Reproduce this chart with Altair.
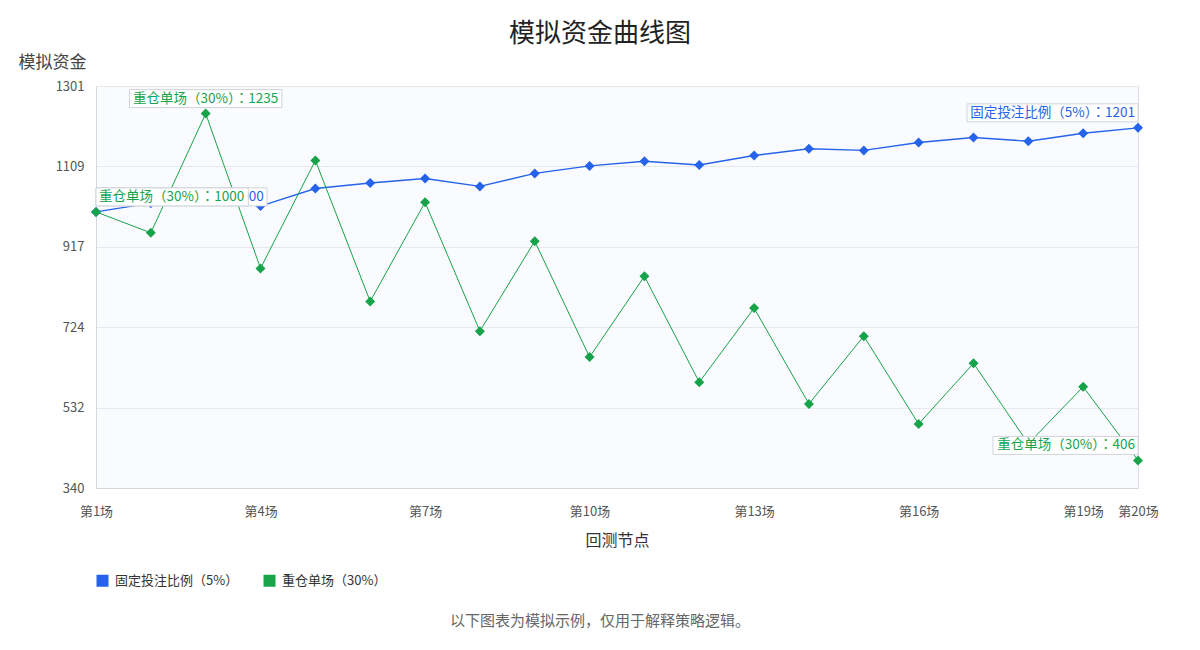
import altair as alt
import pandas as pd

FONT = "Noto Sans CJK SC"
LABEL_FONT = "Noto Sans CJK JP"

# ---- data ----
rounds = list(range(1, 21))
fixed_bet = [1000, 1021, 1040, 1014, 1056, 1069, 1080, 1061, 1092, 1110,
             1121, 1112, 1135, 1151, 1147, 1166, 1178, 1169, 1188, 1201]
heavy_bet = [1000, 950, 1235, 865, 1123, 786, 1023, 715, 930, 653,
             846, 593, 770, 541, 703, 493, 638, 446, 582, 406]
series_names = ["固定投注比例（5%）", "重仓单场（30%）"]
series_colors = ["#2563eb", "#16a34a"]
y_ticks = [340, 532, 724, 917, 1109, 1301]
x_ticks = [1, 4, 7, 10, 13, 16, 19, 20]
title_text = "模拟资金曲线图"
y_title = "模拟资金"
x_title = "回测节点"
footer_text = "以下图表为模拟示例，仅用于解释策略逻辑。"

rows = []
for name, vals in zip(series_names, [fixed_bet, heavy_bet]):
    for r, v in zip(rounds, vals):
        rows.append({"round": r, "value": v, "series": name})
df = pd.DataFrame(rows)

x_scale = alt.Scale(domain=[1, 20], nice=False)
y_scale = alt.Scale(domain=[340, 1301], nice=False, zero=False)

x_axis = alt.Axis(values=x_ticks, labelExpr="'第' + datum.value + '场'",
                  labelFontSize=13, labelColor="#555", ticks=False, grid=False,
                  domainColor="#d5d8df", labelPadding=17, labelOverlap=False,
                  labelFlush=False, title=x_title, titleFontSize=16,
                  titleColor="#333", titleFontWeight="normal", titlePadding=14)
y_axis = alt.Axis(values=y_ticks, format="d", labelFontSize=13, labelColor="#555",
                  ticks=False, grid=True, gridColor="#e6e8ec",
                  domainColor="#d5d8df", labelPadding=12, title=y_title,
                  titleAngle=0, titleAlign="left", titleBaseline="middle",
                  titleX=-78, titleY=-24, titleFontSize=17, titleColor="#444",
                  titleFontWeight="normal")

base = alt.Chart(df)
layers = []

# lines
for name, col, w in zip(series_names, series_colors, [1.4, 1.0]):
    layers.append(
        base.transform_filter(alt.datum.series == name)
        .mark_line(color=col, strokeWidth=w)
        .encode(x=alt.X("round:Q", scale=x_scale, axis=x_axis),
                y=alt.Y("value:Q", scale=y_scale, axis=y_axis))
    )

# points (with legend)
layers.append(
    base.mark_point(shape="diamond", filled=True, size=100, opacity=1)
    .encode(
        x=alt.X("round:Q", scale=x_scale, axis=x_axis),
        y=alt.Y("value:Q", scale=y_scale, axis=y_axis),
        color=alt.Color("series:N",
                        scale=alt.Scale(domain=series_names, range=series_colors),
                        legend=alt.Legend(title=None, orient="none", legendX=0,
                                          legendY=488, direction="horizontal",
                                          symbolType="square", symbolSize=144,
                                          symbolStrokeWidth=0, labelFontSize=13,
                                          labelColor="#333", labelOffset=6,
                                          columnPadding=24, padding=0)),
    )
)


# labels: first, max, min, last of each series
def text_width(s):
    w = 0.0
    for ch in s:
        if ch.isdigit():
            w += 7.3
        elif ch == "%":
            w += 11.5
        elif ord(ch) > 255:
            w += 13
        else:
            w += 7
    return w


for name, col, vals in zip(series_names, series_colors, [fixed_bet, heavy_bet]):
    idxs = []
    for i in [0, vals.index(max(vals)), vals.index(min(vals)), len(vals) - 1]:
        if i not in idxs:
            idxs.append(i)
    for i in idxs:
        txt = f"{name}：{vals[i]}"
        w = text_width(txt) + 6
        if i == 0:
            align, xo, x2o, dx = "left", 0, w, 3
        elif i == len(vals) - 1:
            align, xo, x2o, dx = "right", -w, 0, -3
        else:
            align, xo, x2o, dx = "center", -w / 2, w / 2, 0
        ldf = pd.DataFrame({"round": [rounds[i]], "value": [vals[i]], "label": [txt]})
        lc = alt.Chart(ldf)
        layers.append(
            lc.mark_rect(fill="white", stroke="#cfd3da", strokeWidth=1,
                         xOffset=xo, x2Offset=x2o, yOffset=-24, y2Offset=-6)
            .encode(x=alt.X("round:Q", scale=x_scale, axis=x_axis), x2="round:Q",
                    y=alt.Y("value:Q", scale=y_scale, axis=y_axis), y2="value:Q")
        )
        layers.append(
            lc.mark_text(color=col, fontSize=13.5, font=LABEL_FONT, align=align,
                         baseline="middle", dx=dx, dy=-15)
            .encode(x=alt.X("round:Q", scale=x_scale, axis=x_axis),
                    y=alt.Y("value:Q", scale=y_scale, axis=y_axis),
                    text="label:N")
        )

# footer
layers.append(
    alt.Chart(pd.DataFrame({"t": [footer_text]}))
    .mark_text(fontSize=15, color="#666", align="center", baseline="middle")
    .encode(x=alt.value(504), y=alt.value(535), text="t:N")
)

chart = (
    alt.layer(*layers)
    .properties(
        width=1042, height=402,
        title=alt.TitleParams(title_text, fontSize=26, color="#222",
                              fontWeight="normal", anchor="middle", dx=-17, dy=-2),
        padding={"left": 96, "top": 86, "right": 62, "bottom": 162},
        autosize=alt.AutoSizeParams(type="none"),
    )
    .configure(font=FONT)
    .configure_view(stroke="#dcdfe6", fill="#fafbfe")
)

chart.save("out.html", embed_options={"renderer": "svg", "actions": False})
